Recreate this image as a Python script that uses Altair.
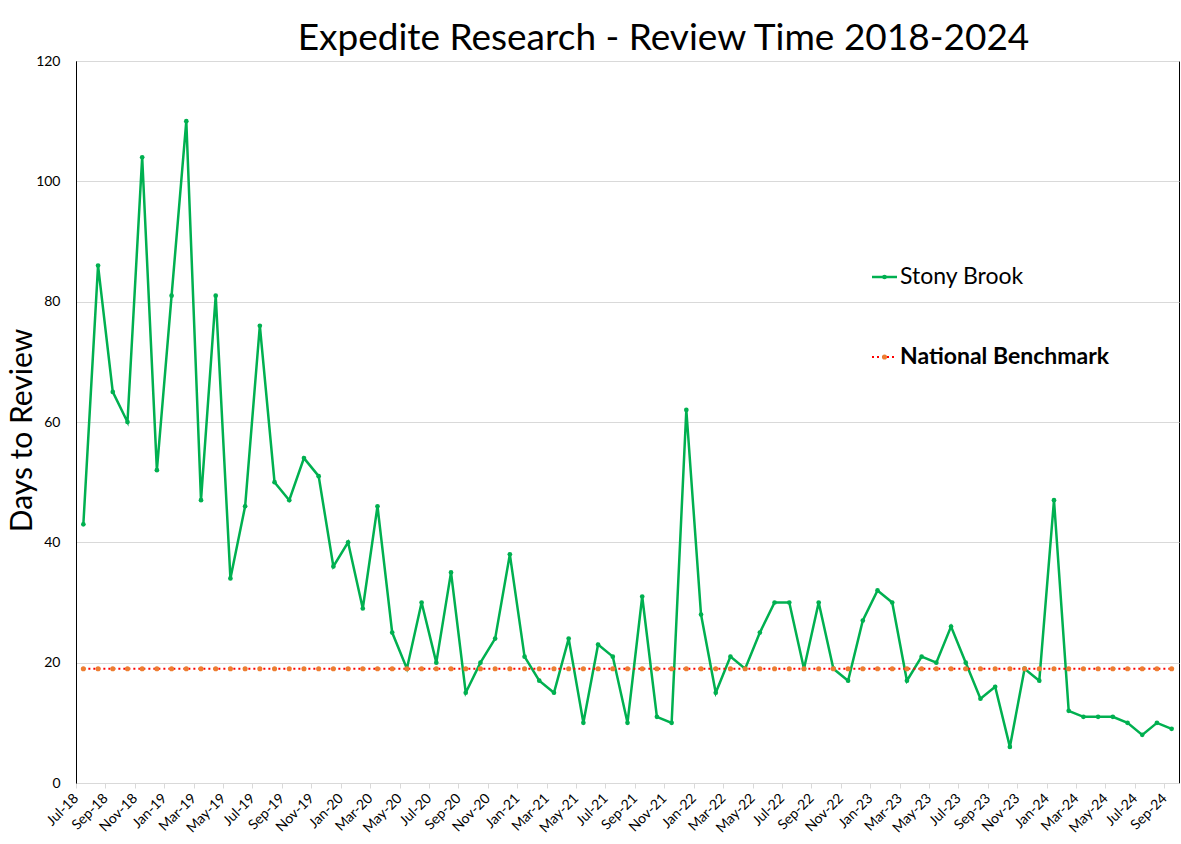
import altair as alt
import pandas as pd

# ---------------- data ----------------
MONTHS = list(pd.date_range("2018-07-01", periods=75, freq="MS").strftime("%b-%y"))
STONY_BROOK = [43, 86, 65, 60, 104, 52, 81, 110, 47, 81,
               34, 46, 76, 50, 47, 54, 51, 36, 40, 29,
               46, 25, 19, 30, 20, 35, 15, 20, 24, 38,
               21, 17, 15, 24, 10, 23, 21, 10, 31, 11,
               10, 62, 28, 15, 21, 19, 25, 30, 30, 19,
               30, 19, 17, 27, 32, 30, 17, 21, 20, 26,
               20, 14, 16, 6, 19, 17, 47, 12, 11, 11,
               11, 10, 8, 10, 9]
BENCHMARK = [19] * 75
TICK_LABELS = MONTHS[::2]
Y_TICKS = [0, 20, 40, 60, 80, 100, 120]

GREEN = "#00B050"
RED = "#FF0000"
ORANGE = "#ED7D31"
FONT = "Lato"

df = pd.DataFrame({
    "idx": list(range(len(MONTHS))),
    "month": MONTHS,
    "stony": STONY_BROOK,
    "bench": BENCHMARK,
})

W, H = 1103, 722
PAD_L, PAD_T = 76, 61

tick_vals = [i - 0.5 for i in range(0, len(MONTHS), 2)]
label_arr = "[" + ",".join("'" + s + "'" for s in TICK_LABELS) + "]"

x_enc = alt.X(
    "idx:Q",
    scale=alt.Scale(domain=[-0.5, len(MONTHS) - 0.5], nice=False, zero=False),
    axis=alt.Axis(
        values=tick_vals,
        tickCount=200,
        labelExpr=label_arr + "[round((datum.value + 0.5) / 2)]",
        labelAngle=315,
        labelAlign="right",
        labelBaseline="middle",
        labelFont=FONT,
        labelFontSize=14,
        labelColor="#000000",
        labelPadding=8,
        tickSize=5,
        tickColor="#D9D9D9",
        domainColor="#D9D9D9",
        grid=False,
        title=None,
        labelOverlap=False,
        labelBound=False,
        labelFlush=False,
    ),
)

y_scale = alt.Scale(domain=[0, 120], nice=False)
y_axis = alt.Axis(
    values=Y_TICKS,
    format="d",
    title="Days to Review",
    titleFont=FONT,
    titleFontSize=30,
    titleFontWeight="normal",
    titleColor="#000000",
    titleX=-54,
    titleY=369,
    titleAlign="center",
    titleBaseline="middle",
    titleAngle=270,
    labelFont=FONT,
    labelFontSize=14,
    labelColor="#000000",
    labelPadding=16,
    ticks=False,
    domainColor="#000000",
    gridColor="#D9D9D9",
    gridWidth=1,
)

base = alt.Chart(df)

stony_line = base.mark_line(color=GREEN, strokeWidth=2.5).encode(
    x=x_enc, y=alt.Y("stony:Q", scale=y_scale, axis=y_axis)
)
stony_pts = base.mark_point(filled=True, color=GREEN, size=22, opacity=1).encode(
    x="idx:Q", y="stony:Q"
)
bench_line = base.mark_line(color=RED, strokeWidth=2, strokeDash=[2, 3]).encode(
    x="idx:Q", y="bench:Q"
)
bench_pts = base.mark_point(filled=True, color=ORANGE, size=26, opacity=1).encode(
    x="idx:Q", y="bench:Q"
)

one = pd.DataFrame({"k": [0]})
LX0, LX1, LXT = 872 - PAD_L, 897 - PAD_L, 900 - PAD_L
LY1, LY2 = 277 - PAD_T, 357 - PAD_T

leg1_line = alt.Chart(one).mark_rule(color=GREEN, strokeWidth=2.5).encode(
    x=alt.value(LX0), x2=alt.value(LX1), y=alt.value(LY1))
leg1_pt = alt.Chart(one).mark_point(filled=True, color=GREEN, size=22, opacity=1).encode(
    x=alt.value((LX0 + LX1) / 2), y=alt.value(LY1))
leg1_txt = alt.Chart(one).mark_text(align="left", baseline="middle", font=FONT,
                                    fontSize=23, color="#000000").encode(
    x=alt.value(LXT), y=alt.value(LY1), text=alt.value("Stony Brook"))

leg2_line = alt.Chart(one).mark_rule(color=RED, strokeWidth=2, strokeDash=[2, 3]).encode(
    x=alt.value(LX0), x2=alt.value(LX1), y=alt.value(LY2))
leg2_pt = alt.Chart(one).mark_point(filled=True, color=ORANGE, size=26, opacity=1).encode(
    x=alt.value((LX0 + LX1) / 2), y=alt.value(LY2))
leg2_txt = alt.Chart(one).mark_text(align="left", baseline="middle", font=FONT,
                                    fontSize=23, fontWeight="bold", color="#000000").encode(
    x=alt.value(LXT), y=alt.value(LY2), text=alt.value("National Benchmark"))

chart = alt.layer(
    stony_line, stony_pts, bench_line, bench_pts,
    leg1_line, leg1_pt, leg1_txt, leg2_line, leg2_pt, leg2_txt,
).properties(
    width=W,
    height=H,
    title=alt.TitleParams(
        "Expedite Research - Review Time 2018-2024",
        font=FONT, fontSize=37, fontWeight="normal", color="#000000",
        anchor="middle", dx=36, offset=-4,
    ),
    autosize=alt.AutoSizeParams(type="none"),
    padding={"left": PAD_L, "top": PAD_T, "right": 2, "bottom": 61},
    background="white",
).configure_view(stroke="#000000", strokeWidth=1)

chart.save("out.html", embed_options={"renderer": "svg", "actions": False})
